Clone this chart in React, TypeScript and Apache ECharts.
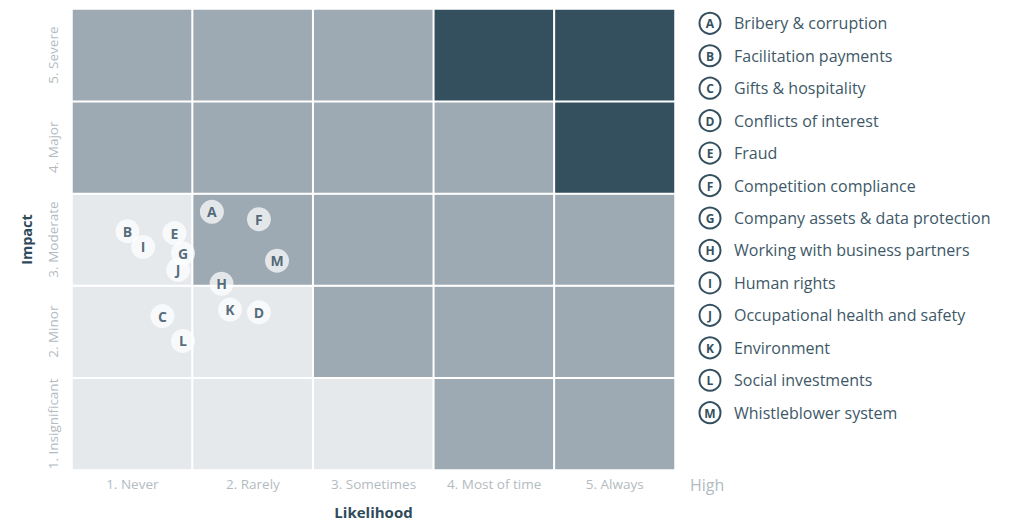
import React, { useEffect, useRef } from "react";
import * as echarts from "echarts";

const likelihoodLabels = ["1. Never", "2. Rarely", "3. Sometimes", "4. Most of time", "5. Always"];
const impactLabels = ["1. Insignificant", "2. Minor", "3. Moderate", "4. Major", "5. Severe"];

// risk level per cell, rows from bottom (Insignificant) to top (Severe)
const levelInsignificant = [1, 1, 1, 2, 2];
const levelMinor = [1, 1, 2, 2, 2];
const levelModerate = [1, 2, 2, 2, 2];
const levelMajor = [2, 2, 2, 2, 3];
const levelSevere = [2, 2, 2, 3, 3];
const levelRows = [levelInsignificant, levelMinor, levelModerate, levelMajor, levelSevere];

const riskLetters = ["A", "B", "C", "D", "E", "F", "G", "H", "I", "J", "K", "L", "M"];
const riskNames = [
  "Bribery & corruption",
  "Facilitation payments",
  "Gifts & hospitality",
  "Conflicts of interest",
  "Fraud",
  "Competition compliance",
  "Company assets & data protection",
  "Working with business partners",
  "Human rights",
  "Occupational health and safety",
  "Environment",
  "Social investments",
  "Whistleblower system",
];
// position on a continuous 0..5 likelihood / impact scale
const riskLikelihood = [1.16, 0.46, 0.75, 1.55, 0.85, 1.55, 0.92, 1.24, 0.59, 0.88, 1.31, 0.92, 1.7];
const riskImpact = [2.8, 2.59, 1.67, 1.71, 2.57, 2.72, 2.35, 2.02, 2.42, 2.17, 1.74, 1.4, 2.27];

const DARK = "#34505f";
const MID = "#9eaab3";
const LIGHT = "#e6e9ec";
const LABEL_GREY = "#b3bbc1";
const TEXT_DARK = "#2f4b5b";
const FONT = "'Open Sans', Lato, sans-serif";

export default function App() {
  const ref = useRef<HTMLDivElement>(null);
  useEffect(() => {
    if (!ref.current) return;
    const chart = echarts.init(ref.current, null, { renderer: "svg" });

    const heatData: number[][] = [];
    levelRows.forEach((row, yi) => row.forEach((v, xi) => heatData.push([xi, yi, v])));

    const scatterData = riskLetters.map((l, i) => ({
      name: l,
      value: [riskLikelihood[i], riskImpact[i]],
    }));

    const legendTop = 23.3;
    const legendStep = 32.45;
    const graphics: any[] = [];
    riskLetters.forEach((l, i) => {
      const cy = legendTop + i * legendStep;
      graphics.push({
        type: "circle",
        shape: { cx: 710, cy, r: 10.5 },
        style: { fill: "#fff", stroke: DARK, lineWidth: 2 },
      });
      graphics.push({
        type: "text",
        x: 710,
        y: cy + 0.5,
        style: {
          text: l,
          fill: DARK,
          font: `bold 12px ${FONT}`,
          align: "center",
          verticalAlign: "middle",
        },
      });
      graphics.push({
        type: "text",
        x: 734,
        y: cy,
        style: {
          text: riskNames[i],
          fill: "#3e5868",
          font: `16px ${FONT}`,
          align: "left",
          verticalAlign: "middle",
        },
      });
    });
    graphics.push({
      type: "text",
      x: 690,
      y: 485,
      style: {
        text: "High",
        fill: LABEL_GREY,
        font: `16px ${FONT}`,
        align: "left",
        verticalAlign: "middle",
      },
    });

    chart.setOption({
      animation: false,
      textStyle: { fontFamily: FONT },
      grid: { left: 72, right: 349, top: 9, bottom: 50, outerBoundsMode: "none", containLabel: false },
      xAxis: [
        {
          type: "category",
          data: likelihoodLabels,
          axisLine: { show: false },
          axisTick: { show: false },
          splitLine: { show: false },
          axisLabel: { color: LABEL_GREY, fontSize: 13.5, margin: 7, fontFamily: FONT, interval: 0 },
          name: "Likelihood",
          nameLocation: "middle",
          nameGap: 34,
          nameTextStyle: { color: TEXT_DARK, fontWeight: "bold", fontSize: 15, fontFamily: FONT },
        },
        { type: "value", min: 0, max: 5, show: false },
      ],
      yAxis: [
        {
          type: "category",
          data: impactLabels,
          axisLine: { show: false },
          axisTick: { show: false },
          splitLine: { show: false },
          axisLabel: { color: LABEL_GREY, fontSize: 13.5, rotate: 90, margin: 12, fontFamily: FONT, interval: 0 },
          name: "Impact",
          nameLocation: "middle",
          nameRotate: 90,
          nameGap: 38,
          nameTextStyle: { color: TEXT_DARK, fontWeight: "bold", fontSize: 14.5, fontFamily: FONT },
        },
        { type: "value", min: 0, max: 5, show: false },
      ],
      visualMap: {
        show: false,
        type: "piecewise",
        dimension: 2,
        seriesIndex: 0,
        pieces: [
          { value: 1, color: LIGHT },
          { value: 2, color: MID },
          { value: 3, color: DARK },
        ],
      },
      series: [
        {
          type: "heatmap",
          xAxisIndex: 0,
          yAxisIndex: 0,
          data: heatData,
          itemStyle: { borderColor: "#fff", borderWidth: 2 },
          emphasis: { disabled: true },
        },
        {
          type: "scatter",
          xAxisIndex: 1,
          yAxisIndex: 1,
          symbol: "circle",
          symbolSize: 24,
          data: scatterData,
          itemStyle: { color: "rgba(255,255,255,0.9)" },
          label: {
            show: true,
            position: "inside",
            formatter: "{b}",
            color: "#2c4859",
            fontWeight: "bold",
            fontSize: 14,
            fontFamily: FONT,
          },
        },
      ],
      graphic: graphics,
    });
    return () => chart.dispose();
  }, []);
  return (
    <div
      ref={ref}
      style={{ position: "absolute", left: 0, top: 0, width: 1024, height: 520 }}
    />
  );
}
